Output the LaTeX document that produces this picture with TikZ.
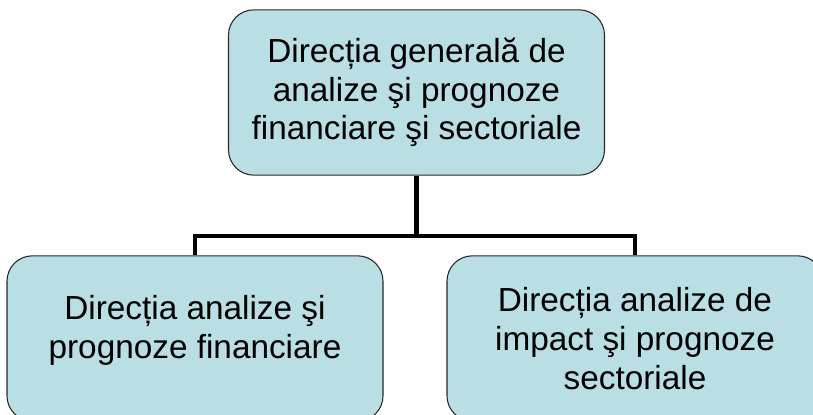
\documentclass[tikz,border=0pt]{standalone}
\usepackage{fontspec}
\setmainfont{Liberation Sans}
\usepackage{tikz}
\usetikzlibrary{positioning}
\definecolor{boxfill}{RGB}{185,222,227}
\definecolor{boxline}{RGB}{40,40,40}

\begin{document}
\begin{tikzpicture}[line join=miter,x=0.75pt,y=-0.75pt,
  unit/.style={draw=boxline,line width=0.8pt,fill=boxfill,rounded corners=19pt,
    align=center,minimum width=282pt,minimum height=124pt,inner sep=0pt,
    font=\fontsize{25}{29}\selectfont},
  conn/.style={line width=3.4pt,black}]
\useasboundingbox (0,0) rectangle (813,414);
\clip (0,0) rectangle (813,414);
% boxes
\node[unit] (gen) at (416.5,92.5) {Direcția generală de\\analize şi prognoze\\financiare şi sectoriale};
\node[unit,text depth=17pt] (fin) at (195,338.5) {Direcția analize şi\\prognoze financiare};
\node[unit] (imp) at (635,338.5) {Direcția analize de\\impact şi prognoze\\sectoriale};
% connectors
\coordinate (bus) at (416,236);
\draw[conn] (gen.south) -- (gen.south |- bus);
\draw[conn] (fin.north) |- (bus) -| (imp.north);
\end{tikzpicture}
\end{document}
